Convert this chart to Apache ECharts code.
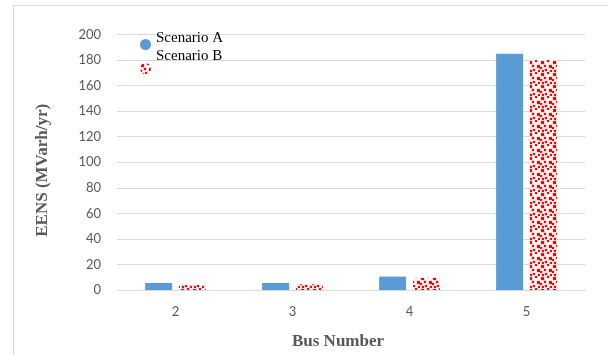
<!DOCTYPE html>
<html>
<head>
<meta charset="utf-8">
<script src="https://cdn.jsdelivr.net/npm/echarts@6/dist/echarts.min.js"></script>
<style>html,body{margin:0;padding:0;background:#fff;}#c{width:608px;height:355px;}</style>
</head>
<body>
<div id="c"></div>
<script>
const categories = ['2', '3', '4', '5'];
const scenarioA = [5.5, 5.5, 10.5, 185];
const scenarioB = [4, 4.5, 9.5, 180];
const yTicks = { min: 0, max: 200, interval: 20 };

function makePattern() {
  const c = document.createElement('canvas');
  c.width = 12; c.height = 12;
  const g = c.getContext('2d');
  g.fillStyle = '#ffffff';
  g.fillRect(0, 0, 12, 12);
  const sq = [[1,1,3],[7,0,2],[4,5,2],[9,5,3],[0,7,2],[5,9,2],[10,10,2],[2,10,2]];
  g.fillStyle = 'rgba(255,160,160,0.8)';
  sq.forEach(s => g.fillRect(s[0]-0.5, s[1]-0.5, s[2]+1, s[2]+1));
  g.fillStyle = '#ff0000';
  sq.forEach(s => g.fillRect(s[0], s[1], s[2], s[2]));
  return c;
}
const pattern = { image: makePattern(), repeat: 'repeat' };

const legendText = { fontFamily: 'Liberation Serif', fontSize: 15, color: '#000', lineHeight: 12 };

const chart = echarts.init(document.getElementById('c'));
chart.setOption({
  animation: false,
  backgroundColor: '#fff',
  graphic: [{
    type: 'rect', silent: true, z: -1,
    shape: { x: 13.5, y: 5.5, width: 620, height: 370 },
    style: { fill: 'none', stroke: '#d9d9d9', lineWidth: 1 }
  }],
  grid: { left: 117, right: 23, top: 34.5, bottom: 65, outerBoundsMode: 'none', containLabel: false },
  legend: [
    { left: 140, top: 31, padding: 0, itemWidth: 11, itemHeight: 11,
      textStyle: legendText,
      formatter: name => name + '\n ',
      data: [{ name: 'Scenario A', icon: 'circle' }] },
    { left: 140, top: 49, padding: 0, itemWidth: 11, itemHeight: 11,
      textStyle: legendText,
      formatter: name => name + '\n \n ',
      data: [{ name: 'Scenario B', icon: 'circle' }] }
  ],
  xAxis: {
    type: 'category', data: categories,
    name: 'Bus Number', nameLocation: 'middle', nameGap: 43,
    nameTextStyle: { fontFamily: 'Liberation Serif', fontWeight: 'bold', fontSize: 17, color: '#595959', padding: [0, 26, 0, 0] },
    axisLine: { lineStyle: { color: '#d9d9d9', width: 1 } },
    axisTick: { show: false },
    axisLabel: { fontFamily: 'Lato', fontSize: 13, color: '#595959', margin: 15 }
  },
  yAxis: {
    type: 'value', min: yTicks.min, max: yTicks.max, interval: yTicks.interval,
    name: 'EENS (MVarh/yr)', nameLocation: 'middle', nameGap: 66,
    nameTextStyle: { fontFamily: 'Liberation Serif', fontWeight: 'bold', fontSize: 17, color: '#595959', padding: [0, 16, 0, 0] },
    axisLine: { show: false },
    axisTick: { show: false },
    splitLine: { lineStyle: { color: '#d9d9d9', width: 1 } },
    axisLabel: { fontFamily: 'Lato', fontSize: 13, color: '#595959', margin: 16 }
  },
  series: [
    { name: 'Scenario A', type: 'bar', data: scenarioA, barWidth: 27, barGap: '25%',
      itemStyle: { color: '#5b9bd5' } },
    { name: 'Scenario B', type: 'bar', data: scenarioB, barWidth: 27,
      itemStyle: { color: pattern } }
  ]
});
</script>
</body>
</html>
